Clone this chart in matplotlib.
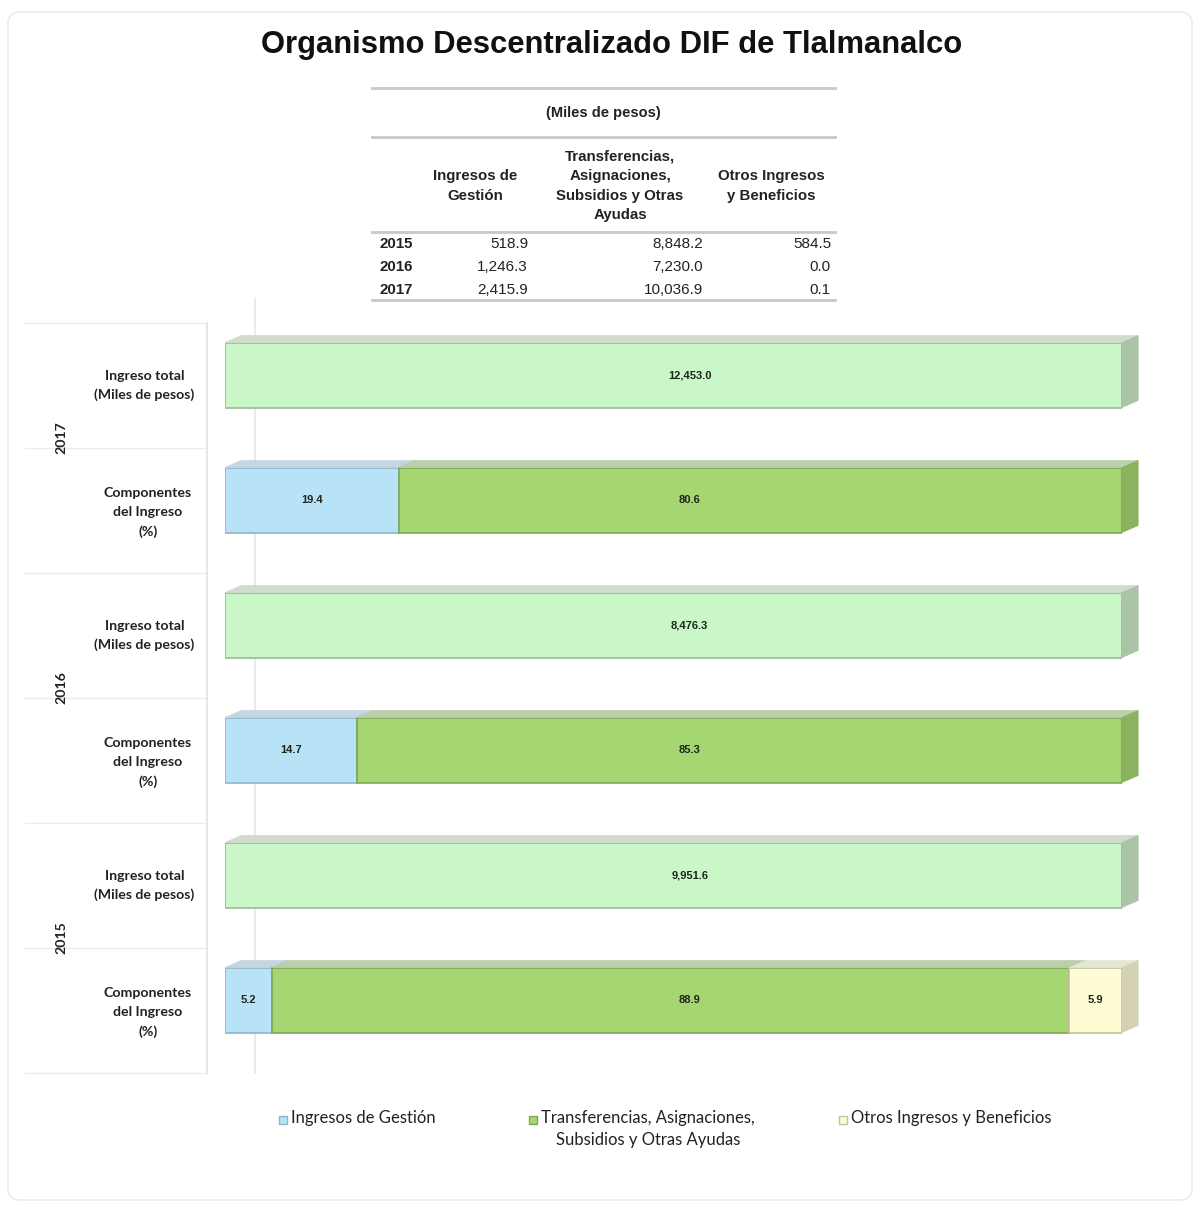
import matplotlib
matplotlib.use("Agg")
import matplotlib.pyplot as plt
from matplotlib.patches import Polygon, Rectangle, FancyBboxPatch
from matplotlib.lines import Line2D

title = "Organismo Descentralizado DIF de Tlalmanalco"

# tabla (miles de pesos)
years = ["2015", "2016", "2017"]
col_heads = ["Ingresos de\nGestión",
             "Transferencias,\nAsignaciones,\nSubsidios y Otras\nAyudas",
             "Otros Ingresos\ny Beneficios"]
gestion = ["518.9", "1,246.3", "2,415.9"]
transfer = ["8,848.2", "7,230.0", "10,036.9"]
otros = ["584.5", "0.0", "0.1"]

# grafica (2015, 2016, 2017)
total_labels = ["9,951.6", "8,476.3", "12,453.0"]
pct_gestion = [5.2, 14.7, 19.4]
pct_transfer = [88.9, 85.3, 80.6]
pct_otros = [5.9, 0.0, 0.0]
series_names = ["Ingresos de Gestión",
                "Transferencias, Asignaciones,\nSubsidios y Otras Ayudas",
                "Otros Ingresos y Beneficios"]
row_names = ["Componentes\ndel Ingreso\n(%)", "Ingreso total\n(Miles de pesos)"]

# colores: frente, cara superior, lateral, borde
C_GES = ("#b8e2f6", "#c4d6e0", "#9fc6d8", "#8fb6c8")
C_TRA = ("#a6d672", "#bccfac", "#8bb25e", "#7fa556")
C_OTR = ("#fdfcd3", "#e6e6d6", "#d4d2b2", "#c4c2a2")
C_TOT = ("#c9f7c7", "#d0ddce", "#a9c5a5", "#9cb898")

W, H = 1200, 1213
fx = lambda x: x / W
fy = lambda y: 1 - y / H

fig = plt.figure(figsize=(12, 12.13), dpi=100)

# marco exterior
fig.add_artist(FancyBboxPatch((fx(8), fy(1200)), fx(1184), 1188 / H,
                              boxstyle="round,pad=0,rounding_size=0.01",
                              transform=fig.transFigure, fc="none",
                              ec="#ebebeb", lw=1.2))

fig.text(fx(612), fy(45), title, ha="center", va="center", fontsize=22.3,
         fontweight="bold", family="Liberation Sans", color="#111111")

# ---- tabla ----
tab_font = dict(family="Liberation Sans", color="#222222")
for yl in (88, 137, 232, 300):
    fig.add_artist(Line2D([fx(372), fx(835)], [fy(yl), fy(yl)],
                          transform=fig.transFigure, color="#c9c9c9", lw=2))
fig.text(fx(603), fy(113), "(Miles de pesos)", ha="center", va="center",
         fontweight="bold", fontsize=10.5, **tab_font)
head_x = [475, 620, 771]
for hx, txt in zip(head_x, col_heads):
    fig.text(fx(hx), fy(186), txt, ha="center", va="center", fontweight="bold",
             linespacing=1.5, fontsize=10.8, **tab_font)
row_y = [244, 267, 290]
for ry, yr, a, b, c in zip(row_y, years, gestion, transfer, otros):
    fig.text(fx(380), fy(ry), yr, ha="left", va="center", fontweight="bold",
             fontsize=10.8, **tab_font)
    fig.text(fx(528), fy(ry), a, ha="right", va="center", fontsize=11, **tab_font)
    fig.text(fx(703), fy(ry), b, ha="right", va="center", fontsize=11, **tab_font)
    fig.text(fx(831), fy(ry), c, ha="right", va="center", fontsize=11, **tab_font)

# ---- grafica ----
ax = fig.add_axes([fx(225), fy(1072.5), 897 / W, 750 / H])
ax.set_xlim(0, 100)
ax.set_ylim(-0.58, 5.42)
ax.axis("off")

h = 0.52
dx, dy = 1.8, 0.056
lab_font = dict(family="Liberation Sans", fontsize=8, fontweight="bold",
                color="#1c261c")


def bar3d(left, width, y, cols, label):
    front, top, side, edge = cols
    ax.barh(y, width, left=left, height=h, color=front, edgecolor=edge,
            linewidth=1.2, zorder=3)
    yt = y + h / 2
    ax.add_patch(Polygon([(left, yt), (left + dx, yt + dy),
                          (left + width + dx, yt + dy), (left + width, yt)],
                         closed=True, fc=top, ec=top, lw=0.5, zorder=3,
                         clip_on=False))
    r = left + width
    ax.add_patch(Polygon([(r, y - h / 2), (r + dx, y - h / 2 + dy),
                          (r + dx, yt + dy), (r, yt)],
                         closed=True, fc=side, ec=side, lw=0.5, zorder=3,
                         clip_on=False))
    # etiqueta: al centro de la barra completa si el segmento lo contiene
    if left < 50 < left + width:
        xl = 50 + dx
    else:
        xl = left + width / 2
    ax.text(xl, y, label, ha="center", va="center", zorder=5, **lab_font)


for i in range(len(years)):
    y_comp = 2 * i
    y_tot = 2 * i + 1
    bar3d(0, 100, y_tot, C_TOT, total_labels[i])
    left = 0
    for val, cols in zip((pct_gestion[i], pct_transfer[i], pct_otros[i]),
                         (C_GES, C_TRA, C_OTR)):
        if val > 0:
            bar3d(left, val, y_comp, cols, f"{val:.1f}")
            left += val

# etiquetas de filas y años
ytr = ax.get_yaxis_transform()
side_font = dict(family=["Lato", "DejaVu Sans"], fontsize=10.2,
                 fontweight="bold", color="#222222")
for i, yr in enumerate(years):
    ax.text(-0.09, 2 * i + 1 - 0.085, row_names[1], transform=ytr, ha="center",
            va="center", multialignment="center", linespacing=1.65, **side_font)
    ax.text(-0.086, 2 * i - 0.1, row_names[0], transform=ytr, ha="center",
            va="center", multialignment="center", linespacing=1.65, **side_font)
    ax.text(-0.182, 2 * i + 0.5, yr, transform=ytr, ha="center", va="center",
            rotation=90, **side_font)

for k in range(7):
    ax.plot([-0.223, -0.02], [k - 0.58, k - 0.58], transform=ytr,
            color="#ececec", lw=1, clip_on=False, zorder=1)
ax.plot([-0.02, -0.02], [-0.58, 5.42], transform=ytr, color="#e2e2e2",
        lw=1.2, clip_on=False, zorder=1)
ax.plot([0.0334, 0.0334], [-0.58, 5.62], transform=ytr, color="#e6e6e6",
        lw=1.2, clip_on=False, zorder=1)

# leyenda (muestra a la altura de la primera linea de cada texto)
leg_x = [283, 533, 843]
leg_font = dict(family=["Lato", "DejaVu Sans"], fontsize=12, color="#222222")
for lx, name, cols in zip(leg_x, series_names, (C_GES, C_TRA, C_OTR)):
    fig.add_artist(Rectangle((fx(lx - 4), fy(1124)), 8 / W, 8 / H,
                             transform=fig.transFigure, fc=cols[0],
                             ec=cols[3], lw=1))
    fig.text(fx(lx + 8), fy(1110), name, ha="left", va="top",
             multialignment="center", linespacing=1.45, **leg_font)

fig.savefig("out.png", dpi=100)
